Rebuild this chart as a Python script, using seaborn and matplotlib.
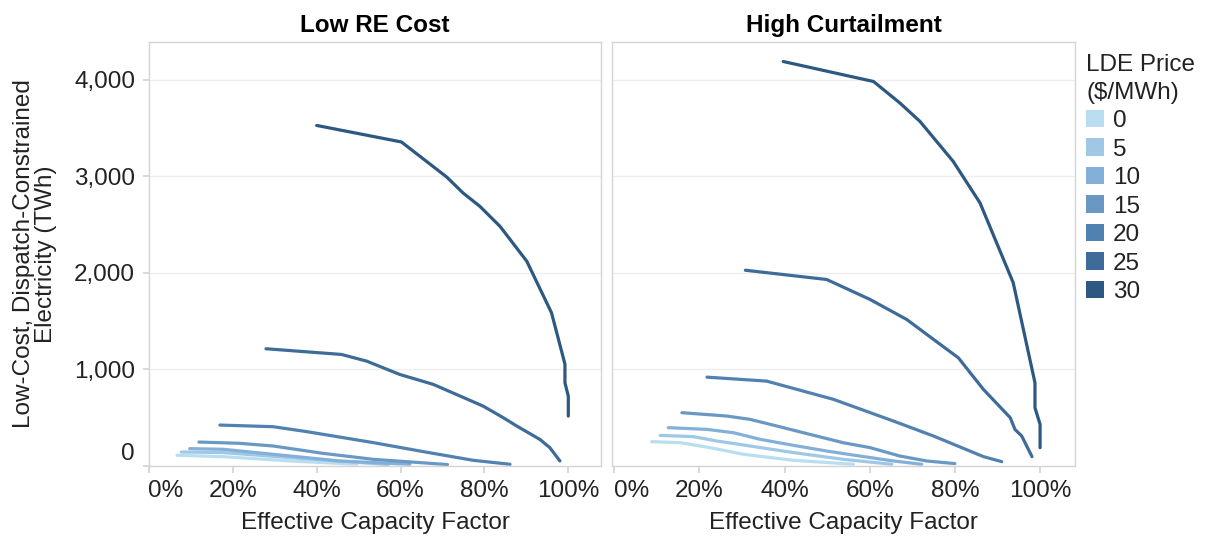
import numpy as np
import pandas as pd
import matplotlib
matplotlib.use("Agg")
import matplotlib.pyplot as plt
from matplotlib.patches import Patch
from matplotlib.transforms import ScaledTranslation
from matplotlib.ticker import FuncFormatter
import seaborn as sns

# ---- data -------------------------------------------------------------
scenarios = ["Low RE Cost", "High Curtailment"]
prices = [0, 5, 10, 15, 20, 25, 30]

# Low RE Cost: effective capacity factor (%) and energy (TWh) by LDE price
low_cf = {
    0: [6.7, 17.7, 33.6, 49.5],
    5: [7.7, 17.7, 33.6, 53.5, 57.0],
    10: [9.7, 17.7, 29.6, 45.5, 62.2],
    15: [11.9, 21.6, 29.6, 41.5, 53.5, 71.2],
    20: [16.9, 29.6, 37.6, 53.5, 65.4, 77.3, 86.1],
    25: [27.9, 45.9, 51.9, 59.8, 67.8, 74.2, 79.7, 84.5, 87.7, 93.2, 95.6, 98.0],
    30: [40.0, 60.2, 71.0, 74.9, 78.9, 83.7, 90.1, 96.0, 99.2, 99.2, 100.0, 100.0],
}
low_twh = {
    0: [111, 97, 52, 18],
    5: [145, 139, 87, 25, 15],
    10: [180, 173, 121, 52, 18],
    15: [248, 235, 207, 131, 69, 15],
    20: [424, 407, 356, 242, 149, 59, 18],
    25: [1214, 1155, 1086, 948, 845, 724, 620, 500, 414, 276, 190, 52],
    30: [3526, 3355, 2992, 2827, 2689, 2482, 2120, 1586, 1055, 862, 724, 517],
}

# High Curtailment
high_cf = {
    0: [8.8, 15.5, 22.5, 30.4, 42.1, 56.2],
    5: [10.8, 18.6, 24.1, 31.9, 42.1, 53.8, 65.2],
    10: [12.7, 21.8, 28.0, 34.3, 42.1, 49.9, 57.7, 65.6, 72.2],
    15: [15.9, 26.5, 31.9, 38.2, 46.0, 53.8, 60.1, 67.1, 73.4, 80.0],
    20: [21.8, 35.8, 51.5, 65.6, 75.0, 86.7, 91.0],
    25: [30.8, 49.9, 60.1, 68.7, 75.0, 80.8, 86.7, 93.0, 94.1, 95.7, 98.1],
    30: [39.7, 60.9, 67.1, 71.8, 79.6, 85.9, 93.7, 98.8, 98.8, 100.0, 100.0],
}
high_twh = {
    0: [252, 242, 190, 121, 59, 18],
    5: [317, 304, 259, 207, 139, 69, 18],
    10: [397, 379, 345, 276, 214, 155, 103, 52, 18],
    15: [552, 517, 483, 414, 327, 241, 190, 103, 52, 25],
    20: [920, 879, 690, 465, 310, 97, 45],
    25: [2027, 1931, 1724, 1517, 1310, 1121, 793, 500, 379, 310, 97],
    30: [4188, 3981, 3758, 3568, 3154, 2724, 1897, 862, 604, 431, 190],
}

x_ticks = [0, 20, 40, 60, 80, 100]
y_ticks = [0, 1000, 2000, 3000, 4000]

# ---- tidy frame -------------------------------------------------------
rows = []
for scen, cf_map, twh_map in [(scenarios[0], low_cf, low_twh),
                              (scenarios[1], high_cf, high_twh)]:
    for p in prices:
        for i, (cf, twh) in enumerate(zip(cf_map[p], twh_map[p])):
            rows.append({"scenario": scen, "price": p, "order": i,
                         "cf": cf, "twh": twh})
df = pd.DataFrame(rows)

# ---- style ------------------------------------------------------------
sns.set_theme(style="white")
plt.rcParams["font.family"] = ["Liberation Sans", "DejaVu Sans"]
text_color = "#222222"
frame_color = "#d4d4d4"
grid_color = "#eeeeee"

blues = ["#b9ddf1", "#9fc8e6", "#83b0d8", "#6a98c5",
         "#5081b0", "#3e6b99", "#2c5882"]
palette = dict(zip(prices, blues))

fig = plt.figure(figsize=(12.05, 5.38), dpi=100)
W, H = 1205, 538
bottom = (H - 466) / H
height = (466 - 42) / H
ax1 = fig.add_axes([149 / W, bottom, (601 - 149) / W, height])
ax2 = fig.add_axes([612 / W, bottom, (1075 - 612) / W, height])

fs = 17.5
for ax, scen, xlim in [(ax1, scenarios[0], (0, 107.8)),
                       (ax2, scenarios[1], (-0.5, 108.2))]:
    sub = df[df["scenario"] == scen]
    sns.lineplot(data=sub, x="cf", y="twh", hue="price", units="price",
                 estimator=None, sort=False, palette=palette,
                 linewidth=2.3, legend=False, ax=ax)
    ax.set_xlim(*xlim)
    ax.set_ylim(0, 4390)
    ax.set_xticks(x_ticks)
    ax.xaxis.set_major_formatter(FuncFormatter(lambda v, _: f"{v:.0f}%"))
    ax.set_yticks(y_ticks)
    ax.yaxis.grid(True, color=grid_color, linewidth=1)
    ax.xaxis.grid(False)
    for s in ax.spines.values():
        s.set_color(frame_color)
        s.set_linewidth(1)
    ax.tick_params(axis="x", bottom=True, length=5, color=frame_color,
                   labelsize=fs, labelcolor=text_color, pad=5)
    ax.set_xlabel("Effective Capacity Factor", fontsize=fs, color=text_color,
                  labelpad=7)
    ax.set_title(scen, fontsize=fs, fontweight="bold", color="#000000", pad=7)
    # nudge the 0% label inward, as the axis edge would clip it
    lbl0 = ax.get_xticklabels()[0]
    lbl0.set_transform(lbl0.get_transform() +
                       ScaledTranslation(0.17, 0, fig.dpi_scale_trans))

ax1.yaxis.set_major_formatter(FuncFormatter(lambda v, _: f"{v:,.0f}"))
ax1.tick_params(axis="y", left=True, length=4, color=frame_color,
                labelsize=fs, labelcolor=text_color, pad=6)
ax1.set_ylabel("Low-Cost, Dispatch-Constrained\nElectricity (TWh)",
               fontsize=fs, color=text_color, labelpad=12, linespacing=1.0)
lbl_y0 = ax1.get_yticklabels()[0]
lbl_y0.set_transform(lbl_y0.get_transform() +
                     ScaledTranslation(0, 0.14, fig.dpi_scale_trans))
ax2.tick_params(axis="y", left=False, labelleft=False)
ax2.set_ylabel("")

# ---- legend -----------------------------------------------------------
handles = [Patch(facecolor=palette[p], edgecolor="none", label=str(p))
           for p in prices]
leg = fig.legend(handles=handles, title="LDE Price\n($/MWh)",
                 loc="upper left", bbox_to_anchor=(1086 / W, 1 - 54 / H),
                 frameon=False, fontsize=fs, title_fontsize=fs,
                 handlelength=0.72, handleheight=0.72, handletextpad=0.38,
                 labelspacing=0.26, borderaxespad=0, borderpad=0)
leg._legend_box.align = "left"
leg._legend_box.sep = 4
leg.get_title().set_linespacing(1.38)
for t in leg.get_texts():
    t.set_color(text_color)
leg.get_title().set_color(text_color)

fig.savefig("out.png", dpi=100)
